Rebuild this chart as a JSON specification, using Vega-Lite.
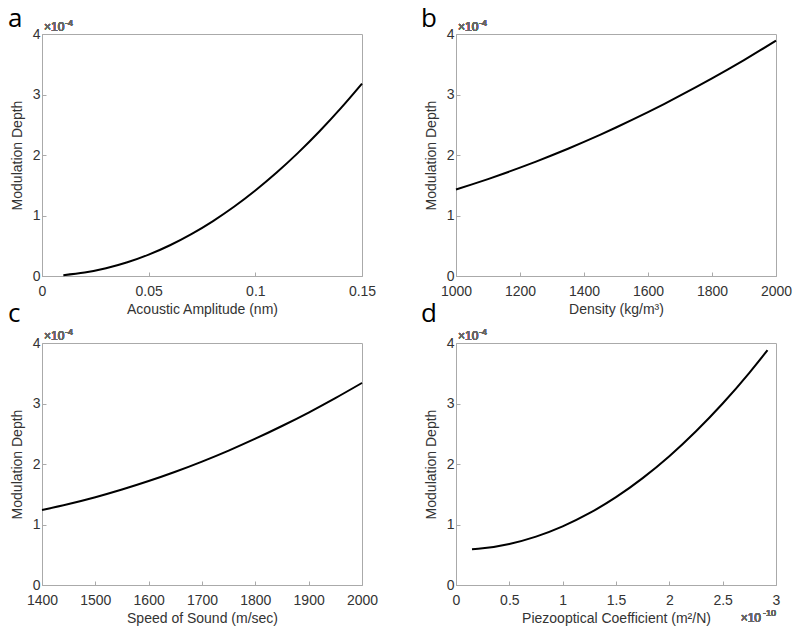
{
  "$schema": "https://vega.github.io/schema/vega-lite/v6.json",
  "padding": {"left": 7, "top": 5, "right": 5, "bottom": 3},
  "background": "white",
  "datasets": {
    "a": [
      {"x": 0.01, "y": 1.41e-6}, {"x": 0.02, "y": 5.65e-6}, {"x": 0.03, "y": 1.272e-5},
      {"x": 0.04, "y": 2.261e-5}, {"x": 0.05, "y": 3.533e-5}, {"x": 0.06, "y": 5.087e-5},
      {"x": 0.07, "y": 6.924e-5}, {"x": 0.08, "y": 9.043e-5}, {"x": 0.09, "y": 1.1445e-4},
      {"x": 0.10, "y": 1.413e-4}, {"x": 0.11, "y": 1.7097e-4}, {"x": 0.12, "y": 2.0347e-4},
      {"x": 0.13, "y": 2.388e-4}, {"x": 0.14, "y": 2.7695e-4}, {"x": 0.15, "y": 3.1793e-4}
    ],
    "b": [
      {"x": 1000, "y": 1.430e-4}, {"x": 1050, "y": 1.514e-4}, {"x": 1100, "y": 1.602e-4},
      {"x": 1150, "y": 1.694e-4}, {"x": 1200, "y": 1.791e-4}, {"x": 1250, "y": 1.891e-4},
      {"x": 1300, "y": 1.996e-4}, {"x": 1350, "y": 2.104e-4}, {"x": 1400, "y": 2.217e-4},
      {"x": 1450, "y": 2.334e-4}, {"x": 1500, "y": 2.455e-4}, {"x": 1550, "y": 2.580e-4},
      {"x": 1600, "y": 2.709e-4}, {"x": 1650, "y": 2.842e-4}, {"x": 1700, "y": 2.980e-4},
      {"x": 1750, "y": 3.121e-4}, {"x": 1800, "y": 3.267e-4}, {"x": 1850, "y": 3.416e-4},
      {"x": 1900, "y": 3.570e-4}, {"x": 1950, "y": 3.728e-4}, {"x": 2000, "y": 3.890e-4}
    ],
    "c": [
      {"x": 1400, "y": 1.240e-4}, {"x": 1450, "y": 1.339e-4}, {"x": 1500, "y": 1.451e-4},
      {"x": 1550, "y": 1.578e-4}, {"x": 1600, "y": 1.718e-4}, {"x": 1650, "y": 1.872e-4},
      {"x": 1700, "y": 2.040e-4}, {"x": 1750, "y": 2.222e-4}, {"x": 1800, "y": 2.418e-4},
      {"x": 1850, "y": 2.628e-4}, {"x": 1900, "y": 2.851e-4}, {"x": 1950, "y": 3.089e-4},
      {"x": 2000, "y": 3.340e-4}
    ],
    "d": [
      {"x": 1.5e-11, "y": 0.590e-4}, {"x": 2.5e-11, "y": 0.6055e-4}, {"x": 5.0e-11, "y": 0.678e-4},
      {"x": 7.5e-11, "y": 0.799e-4}, {"x": 1.0e-10, "y": 0.968e-4}, {"x": 1.25e-10, "y": 1.186e-4},
      {"x": 1.5e-10, "y": 1.452e-4}, {"x": 1.75e-10, "y": 1.767e-4}, {"x": 2.0e-10, "y": 2.129e-4},
      {"x": 2.25e-10, "y": 2.541e-4}, {"x": 2.5e-10, "y": 3.000e-4}, {"x": 2.75e-10, "y": 3.508e-4},
      {"x": 2.92e-10, "y": 3.881e-4}
    ]
  },
  "columns": 2,
  "spacing": {"row": 67, "column": 94},
  "bounds": "flush",
  "concat": [
    {
      "width": 320, "height": 242,
      "title": {"text": "a", "dx": -34, "dy": 17},
      "data": {"name": "a"},
      "layer": [
        {
          "mark": {"type": "line", "color": "black", "strokeWidth": 2, "interpolate": "monotone"},
          "encoding": {
            "x": {"field": "x", "type": "quantitative", "scale": {"domain": [0, 0.15], "nice": false},
                  "axis": {"values": [0, 0.05, 0.1, 0.15], "format": ".2~f", "title": "Acoustic Amplitude (nm)"}},
            "y": {"field": "y", "type": "quantitative", "scale": {"domain": [0, 0.0004], "nice": false},
                  "axis": {"values": [0, 0.0001, 0.0002, 0.0003, 0.0004], "labelExpr": "format(datum.value*1e4, '.6~g')", "title": "Modulation Depth"}}
          }
        },
        {
          "mark": {"type": "text", "align": "left", "baseline": "alphabetic", "dx": 2, "dy": -3, "fontSize": 12, "font": "Liberation Sans", "color": "#666666"},
          "encoding": {"x": {"datum": 0}, "y": {"datum": 0.0004}, "text": {"value": "×10"}}
        },
        {
          "mark": {"type": "text", "align": "left", "baseline": "alphabetic", "dx": 23, "dy": -8, "fontSize": 9, "font": "Liberation Sans", "color": "#666666"},
          "encoding": {"x": {"datum": 0}, "y": {"datum": 0.0004}, "text": {"value": "-4"}}
        }
      ]
    },
    {
      "width": 320, "height": 242,
      "title": {"text": "b", "dx": -35, "dy": 17},
      "data": {"name": "b"},
      "layer": [
        {
          "mark": {"type": "line", "color": "black", "strokeWidth": 2, "interpolate": "monotone"},
          "encoding": {
            "x": {"field": "x", "type": "quantitative", "scale": {"domain": [1000, 2000], "nice": false, "zero": false},
                  "axis": {"values": [1000, 1200, 1400, 1600, 1800, 2000], "format": "d", "title": "Density (kg/m³)"}},
            "y": {"field": "y", "type": "quantitative", "scale": {"domain": [0, 0.0004], "nice": false},
                  "axis": {"values": [0, 0.0001, 0.0002, 0.0003, 0.0004], "labelExpr": "format(datum.value*1e4, '.6~g')", "title": "Modulation Depth"}}
          }
        },
        {
          "mark": {"type": "text", "align": "left", "baseline": "alphabetic", "dx": 2, "dy": -3, "fontSize": 12, "font": "Liberation Sans", "color": "#666666"},
          "encoding": {"x": {"datum": 1000}, "y": {"datum": 0.0004}, "text": {"value": "×10"}}
        },
        {
          "mark": {"type": "text", "align": "left", "baseline": "alphabetic", "dx": 23, "dy": -8, "fontSize": 9, "font": "Liberation Sans", "color": "#666666"},
          "encoding": {"x": {"datum": 1000}, "y": {"datum": 0.0004}, "text": {"value": "-4"}}
        }
      ]
    },
    {
      "width": 320, "height": 242,
      "title": {"text": "c", "dx": -34, "dy": 3},
      "data": {"name": "c"},
      "layer": [
        {
          "mark": {"type": "line", "color": "black", "strokeWidth": 2, "interpolate": "monotone"},
          "encoding": {
            "x": {"field": "x", "type": "quantitative", "scale": {"domain": [1400, 2000], "nice": false, "zero": false},
                  "axis": {"values": [1400, 1500, 1600, 1700, 1800, 1900, 2000], "format": "d", "title": "Speed of Sound (m/sec)"}},
            "y": {"field": "y", "type": "quantitative", "scale": {"domain": [0, 0.0004], "nice": false},
                  "axis": {"values": [0, 0.0001, 0.0002, 0.0003, 0.0004], "labelExpr": "format(datum.value*1e4, '.6~g')", "title": "Modulation Depth"}}
          }
        },
        {
          "mark": {"type": "text", "align": "left", "baseline": "alphabetic", "dx": 2, "dy": -3, "fontSize": 12, "font": "Liberation Sans", "color": "#666666"},
          "encoding": {"x": {"datum": 1400}, "y": {"datum": 0.0004}, "text": {"value": "×10"}}
        },
        {
          "mark": {"type": "text", "align": "left", "baseline": "alphabetic", "dx": 23, "dy": -8, "fontSize": 9, "font": "Liberation Sans", "color": "#666666"},
          "encoding": {"x": {"datum": 1400}, "y": {"datum": 0.0004}, "text": {"value": "-4"}}
        }
      ]
    },
    {
      "width": 320, "height": 242,
      "title": {"text": "d", "dx": -35, "dy": 3},
      "data": {"name": "d"},
      "layer": [
        {
          "mark": {"type": "line", "color": "black", "strokeWidth": 2, "interpolate": "monotone"},
          "encoding": {
            "x": {"field": "x", "type": "quantitative", "scale": {"domain": [0, 3e-10], "nice": false},
                  "axis": {"values": [0, 5e-11, 1e-10, 1.5e-10, 2e-10, 2.5e-10, 3e-10], "labelExpr": "format(datum.value*1e10, '.6~g')", "title": "Piezooptical Coefficient (m²/N)"}},
            "y": {"field": "y", "type": "quantitative", "scale": {"domain": [0, 0.0004], "nice": false},
                  "axis": {"values": [0, 0.0001, 0.0002, 0.0003, 0.0004], "labelExpr": "format(datum.value*1e4, '.6~g')", "title": "Modulation Depth"}}
          }
        },
        {
          "mark": {"type": "text", "align": "left", "baseline": "alphabetic", "dx": 2, "dy": -3, "fontSize": 12, "font": "Liberation Sans", "color": "#666666"},
          "encoding": {"x": {"datum": 0}, "y": {"datum": 0.0004}, "text": {"value": "×10"}}
        },
        {
          "mark": {"type": "text", "align": "left", "baseline": "alphabetic", "dx": 23, "dy": -8, "fontSize": 9, "font": "Liberation Sans", "color": "#666666"},
          "encoding": {"x": {"datum": 0}, "y": {"datum": 0.0004}, "text": {"value": "-4"}}
        },
        {
          "mark": {"type": "text", "align": "right", "baseline": "alphabetic", "dx": -15, "dy": 37, "fontSize": 12, "font": "Liberation Sans", "color": "#666666"},
          "encoding": {"x": {"datum": 3e-10}, "y": {"datum": 0}, "text": {"value": "×10"}}
        },
        {
          "mark": {"type": "text", "align": "right", "baseline": "alphabetic", "dx": 0, "dy": 31, "fontSize": 9, "font": "Liberation Sans", "color": "#666666"},
          "encoding": {"x": {"datum": 3e-10}, "y": {"datum": 0}, "text": {"value": "-10"}}
        }
      ]
    }
  ],
  "config": {
    "view": {"stroke": "#aaaaaa", "strokeWidth": 1},
    "title": {"anchor": "start", "frame": "group", "fontSize": 26, "font": "Open Sans", "fontWeight": "normal", "color": "black", "baseline": "alphabetic", "offset": 0},
    "axis": {
      "grid": false,
      "domainColor": "#aaaaaa",
      "tickColor": "#aaaaaa",
      "tickSize": -4,
      "labelFlush": false,
      "labelFont": "Liberation Sans",
      "labelFontSize": 14,
      "labelColor": "#333333",
      "titleFont": "Liberation Sans",
      "titleFontSize": 14,
      "titleFontWeight": "normal",
      "titleColor": "#333333"
    },
    "axisX": {"labelPadding": 12, "titlePadding": 4},
    "axisY": {"labelPadding": 6, "titlePadding": 8}
  }
}
